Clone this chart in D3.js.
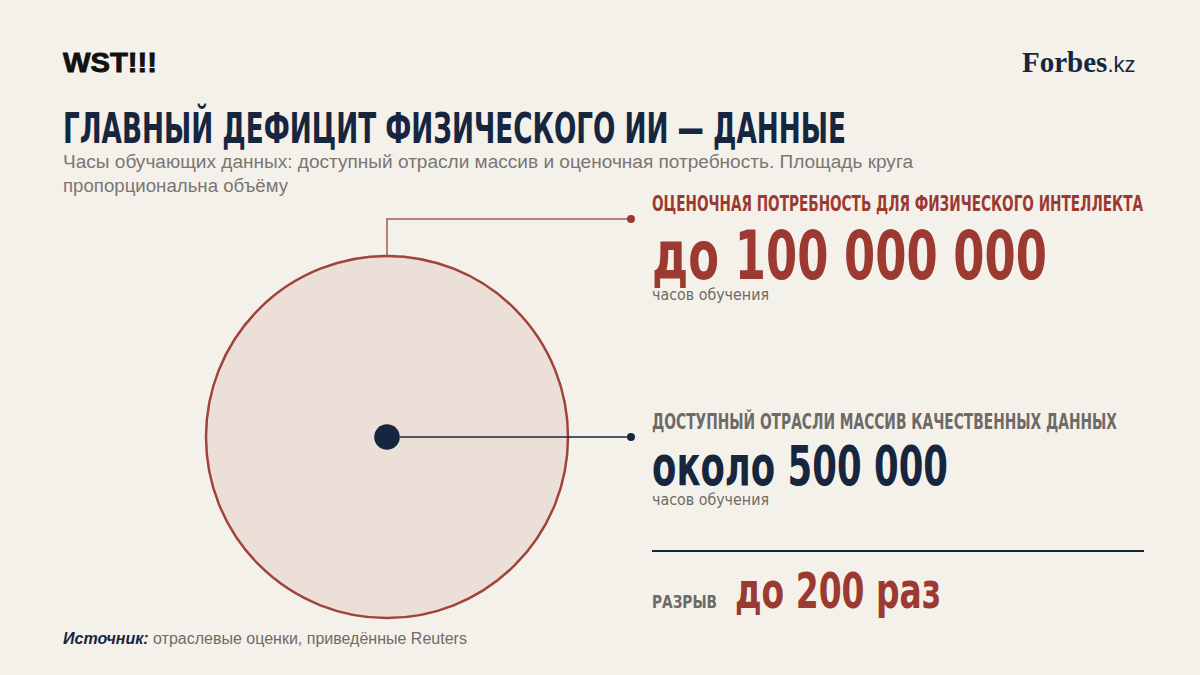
<!DOCTYPE html>
<html><head><meta charset="utf-8">
<script src="https://cdn.jsdelivr.net/npm/d3@7"></script>
<style>
html,body{margin:0;padding:0;background:#f4f1eb;}
svg{display:block;}
</style></head>
<body>
<svg id="chart" width="1200" height="675"></svg>
<script>
// ---- data ----
const categories = ["Оценочная потребность для физического интеллекта", "Доступный отрасли массив качественных данных"];
const hours = [100000000, 500000];
const valueLabels = ["до 100 000 000", "около 500 000"];
const unitLabel = "часов обучения";
const gapLabel = "разрыв";
const gapValue = "до 200 раз";
const titleText = "ГЛАВНЫЙ ДЕФИЦИТ ФИЗИЧЕСКОГО ИИ — ДАННЫЕ";
const subtitleLines = ["Часы обучающих данных: доступный отрасли массив и оценочная потребность. Площадь круга", "пропорциональна объёму"];
const sourceBold = "Источник:";
const sourceText = " отраслевые оценки, приведённые Reuters";

// ---- styles ----
const RED = "#9c3a31", NAVY = "#17263f", GRAY = "#6e6a66", BG = "#f4f1eb";
const COND = "'Liberation Sans Narrow','DejaVu Sans Condensed','Arial Narrow',sans-serif";
const SANS = "'Liberation Sans',Arial,Helvetica,sans-serif";

const svg = d3.select("#chart");
svg.append("rect").attr("width",1200).attr("height",675).attr("fill",BG);

function cond(x,y,txt,size,color,len,weight){
  const t = svg.append("text").attr("x",x).attr("y",y).text(txt)
    .attr("font-family",COND).attr("font-size",size).attr("font-weight",weight||"bold")
    .attr("fill",color);
  if(len){ t.attr("textLength",len).attr("lengthAdjust","spacingAndGlyphs"); }
  return t;
}

// header
svg.append("text").attr("x",63).attr("y",72).text("WST!!!")
  .attr("font-family",SANS).attr("font-weight","900").attr("font-size",28)
  .attr("fill","#111").attr("textLength",94).attr("lengthAdjust","spacingAndGlyphs")
  .attr("stroke","#111").attr("stroke-width",0.9);
const fb = svg.append("text").attr("x",1022).attr("y",72).attr("fill",NAVY);
fb.append("tspan").text("Forbes").attr("font-family","'Liberation Serif','DejaVu Serif',serif").attr("font-weight","bold").attr("font-size",29);
fb.append("tspan").text(".kz").attr("font-family",SANS).attr("font-size",22);

// title + subtitle
cond(63,143,titleText,43,NAVY,783);
svg.append("text").attr("font-family",SANS).attr("font-size",18).attr("fill","#7a7672")
  .selectAll("tspan").data(subtitleLines).join("tspan")
  .attr("x",63).attr("y",(d,i)=>168+i*24).text(d=>d)
  .attr("textLength",(d,i)=>i===0?850:225).attr("lengthAdjust","spacingAndGlyphs");

// circles, area proportional
const cx = 387, cy = 437;
const r = d3.scaleSqrt().domain([0, d3.max(hours)]).range([0, 181]);
const circles = hours.map((h,i)=>({h,i,r:r(h)}));
svg.selectAll("circle.vol").data(circles).join("circle").attr("class","vol")
  .attr("cx",cx).attr("cy",cy).attr("r",d=>d.r)
  .attr("fill",d=>d.i===0?"#ebdfd8":NAVY)
  .attr("stroke",d=>d.i===0?"#a1433a":"none")
  .attr("stroke-width",2.5);

// leaders
const labelX = 652, dotX = 631;
const bigTop = cy - r(hours[0]);
const lead1y = 219;
svg.append("path").attr("d",`M${cx},${bigTop} V${lead1y} H${dotX}`)
  .attr("fill","none").attr("stroke","#a45a52").attr("stroke-width",1.5);
svg.append("circle").attr("cx",dotX).attr("cy",lead1y).attr("r",4).attr("fill",RED);
svg.append("line").attr("x1",cx+r(hours[1])).attr("y1",cy).attr("x2",dotX).attr("y2",cy)
  .attr("stroke",NAVY).attr("stroke-width",1.5);
svg.append("circle").attr("cx",dotX).attr("cy",cy).attr("r",4).attr("fill",NAVY);

// label block 1 (need)
cond(labelX,211,categories[0].toUpperCase(),22,RED,491);
cond(labelX,279,valueLabels[0],68,RED,395);
svg.append("text").attr("x",labelX).attr("y",300).text(unitLabel)
  .attr("font-family",COND).attr("font-size",15).attr("fill",GRAY)
  .attr("textLength",117).attr("lengthAdjust","spacingAndGlyphs");

// label block 2 (available)
cond(labelX,429,categories[1].toUpperCase(),22,GRAY,465);
cond(labelX,485,valueLabels[1],55,NAVY,296);
svg.append("text").attr("x",labelX).attr("y",505).text(unitLabel)
  .attr("font-family",COND).attr("font-size",15).attr("fill",GRAY)
  .attr("textLength",117).attr("lengthAdjust","spacingAndGlyphs");

// divider + gap
svg.append("line").attr("x1",labelX).attr("x2",1144).attr("y1",551).attr("y2",551)
  .attr("stroke",NAVY).attr("stroke-width",2);
cond(labelX,608,gapLabel.toUpperCase(),18,GRAY,65);
cond(735,608,gapValue,49,RED,206);

// source
const src = svg.append("text").attr("x",63).attr("y",644).attr("font-family",SANS).attr("font-size",16);
src.append("tspan").text(sourceBold).attr("font-weight","bold").attr("font-style","italic").attr("fill",NAVY);
src.append("tspan").text(sourceText).attr("fill","#6f6b67");
</script>
</body></html>
